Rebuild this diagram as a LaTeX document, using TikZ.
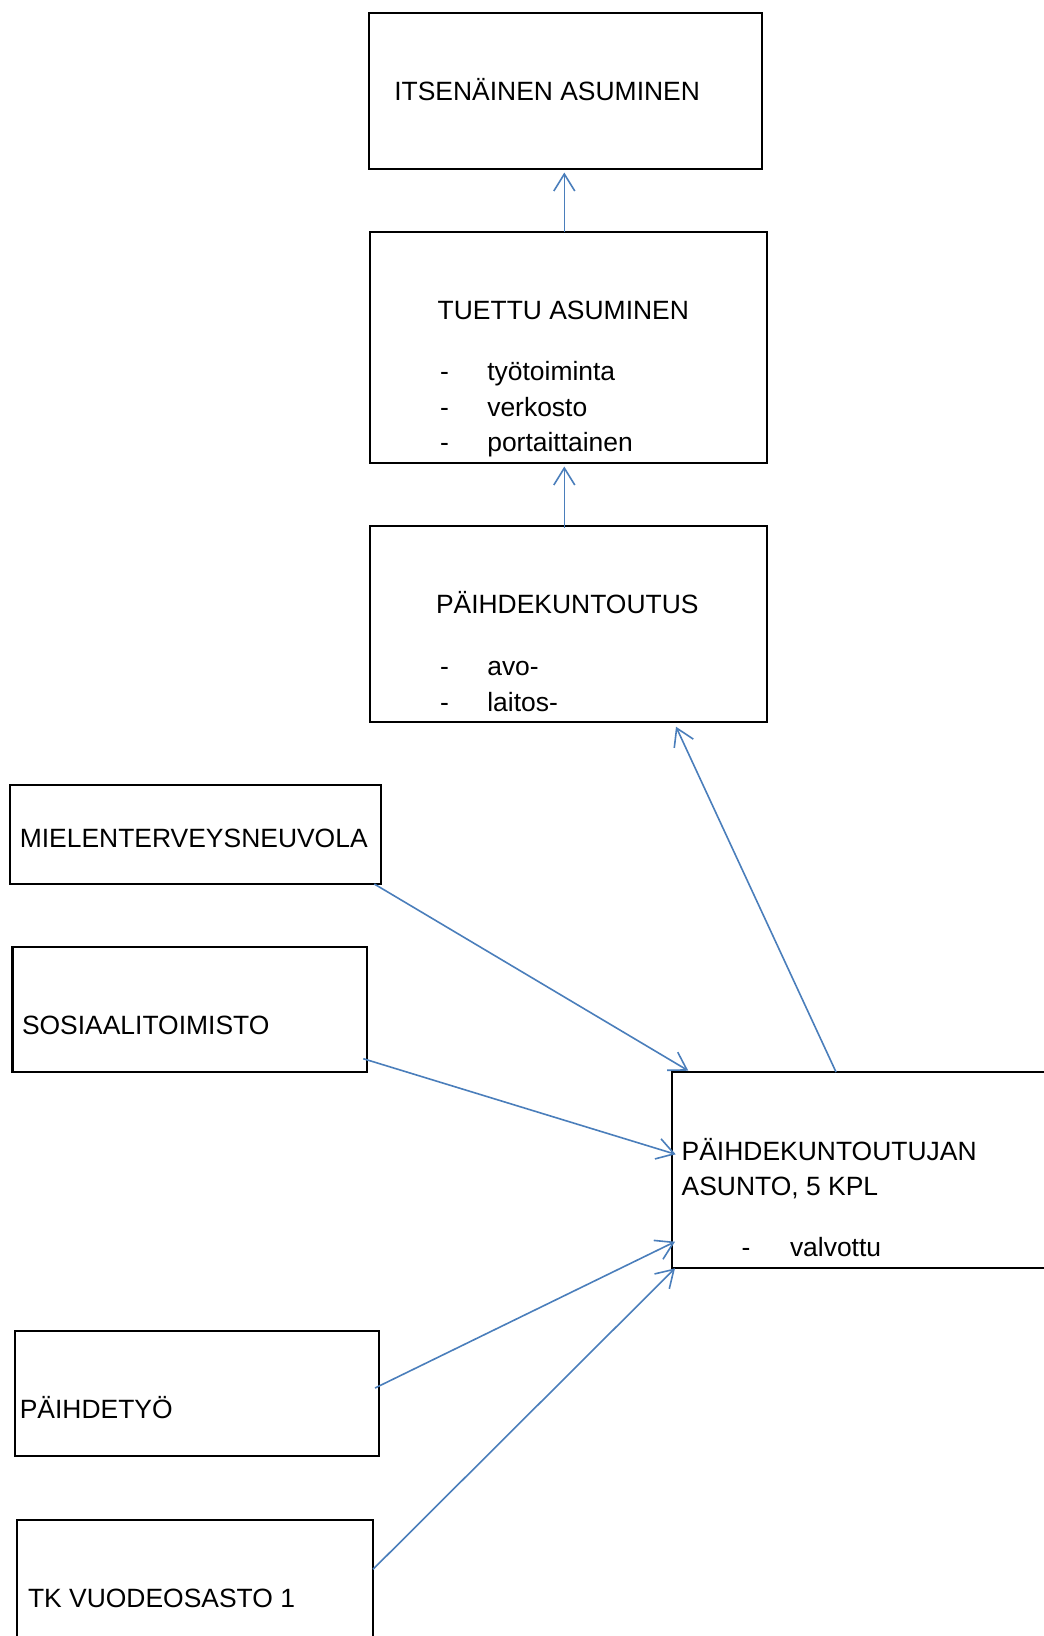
\documentclass[tikz,border=0pt]{standalone}
\usepackage{fontspec}
\setmainfont{Liberation Sans}
\usetikzlibrary{arrows.meta,calc}
\definecolor{conn}{HTML}{4A7EBB}
\tikzset{
  box/.style={draw=black, line width=2.2pt, inner sep=0pt, outer sep=0pt, anchor=north west},
  txt/.style={anchor=base west, inner sep=0pt, outer sep=0pt, font=\fontsize{26.45pt}{35.5pt}\selectfont},
  arr/.style={draw=conn, line width=1.6pt, -{Straight Barb[length=17pt, width=21pt, line width=1.6pt]}}
}
\begin{document}
\begin{tikzpicture}[x=1pt,y=-1pt]
\useasboundingbox (0,0) rectangle (1044,1636);
\clip (0,0) rectangle (1044,1636);
% boxes
\node[box, minimum width=393pt, minimum height=156pt] (itse) at (369.3,12.7) {};
\node[box, minimum width=397.6pt, minimum height=230.7pt] (tuettu) at (369.7,232) {};
\node[box, minimum width=397.3pt, minimum height=196pt] (paihdek) at (369.7,525.7) {};
\node[box, minimum width=371pt, minimum height=99pt] (miel) at (10,785) {};
\node[box, minimum width=354.8pt, minimum height=124.7pt] (sos) at (12.5,947) {};
\node[box, minimum width=364.4pt, minimum height=125pt] (ptyo) at (14.6,1331) {};
\node[box, minimum width=356.3pt, minimum height=200pt] (tk) at (16.7,1519.6) {};
\node[box, minimum width=420pt, minimum height=195.7pt] (asunto) at (672.3,1072) {};
% texts
\node[txt] (t1) at (394.3,100) {ITSENÄINEN ASUMINEN};
\node[txt] (t2) at (437.7,319) {TUETTU ASUMINEN};
\node[txt] (t2a) at (440,380.7) {-};
\node[txt] (t2b) at (487.3,380.7) {työtoiminta};
\node[txt] (t2c) at (440,416.2) {-};
\node[txt] (t2d) at (487.3,416.2) {verkosto};
\node[txt] (t2e) at (440,451.7) {-};
\node[txt] (t2f) at (487.3,451.7) {portaittainen};
\node[txt] (t3) at (436,613.3) {PÄIHDEKUNTOUTUS};
\node[txt] (t3a) at (440,675.5) {-};
\node[txt] (t3b) at (487.3,675.5) {avo-};
\node[txt] (t3c) at (440,711) {-};
\node[txt] (t3d) at (487.3,711) {laitos-};
\node[txt] (t4) at (19.8,847) {MIELENTERVEYSNEUVOLA};
\node[txt] (t5) at (22,1034.7) {SOSIAALITOIMISTO};
\node[txt] (t6) at (681.7,1160) {PÄIHDEKUNTOUTUJAN};
\node[txt] (t6b) at (681.7,1195) {ASUNTO, 5 KPL};
\node[txt] (t6c) at (741.7,1256) {-};
\node[txt] (t6d) at (790,1256) {valvottu};
\node[txt] (t7) at (19.8,1418.5) {PÄIHDETYÖ};
\node[txt] (t8) at (28,1607.5) {TK VUODEOSASTO 1};
% connectors
\draw[arr] ($(tuettu.north west)+(194.6,0)$) -- ($(itse.south west)+(195,3.8)$);
\draw[arr] ($(paihdek.north west)+(194.6,2)$) -- ($(tuettu.south west)+(194.6,3.8)$);
\draw[arr] ($(asunto.north west)+(163.7,0)$) -- ($(paihdek.south west)+(306.3,5)$);
\draw[arr] ($(miel.south east)+(-6.7,0)$) -- ($(asunto.north west)+(16,-1.3)$);
\draw[arr] ($(sos.south east)+(-4,-13)$) -- ($(asunto.north west)+(3.4,82.3)$);
\draw[arr] ($(ptyo.south east)+(-4,-68)$) -- ($(asunto.north west)+(2.7,169.7)$);
\draw[arr] ($(tk.north east)+(0,49.7)$) -- ($(asunto.north west)+(2.7,196.3)$);
\end{tikzpicture}
\end{document}
